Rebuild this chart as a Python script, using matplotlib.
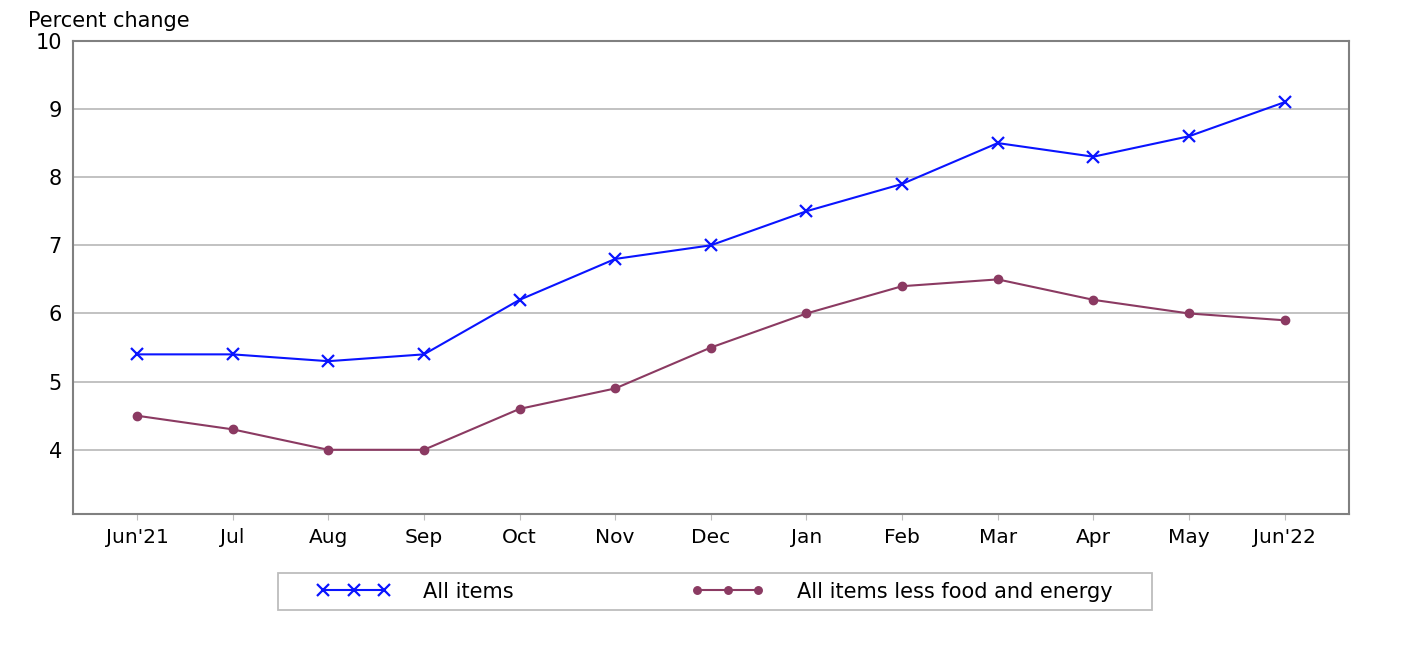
import matplotlib
matplotlib.use('Agg')
import matplotlib.pyplot as plt
from matplotlib.patches import Rectangle

plt.rcParams['font.family'] = ['DejaVu Sans']

meses = ["Jun'21", 'Jul', 'Aug', 'Sep', 'Oct', 'Nov', 'Dec',
         'Jan', 'Feb', 'Mar', 'Apr', 'May', "Jun'22"]
todos = [5.4, 5.4, 5.3, 5.4, 6.2, 6.8, 7.0, 7.5, 7.9, 8.5, 8.3, 8.6, 9.1]
nucleo = [4.5, 4.3, 4.0, 4.0, 4.6, 4.9, 5.5, 6.0, 6.4, 6.5, 6.2, 6.0, 5.9]
yticks = [4, 5, 6, 7, 8, 9, 10]

azul = '#0a14ff'
bordo = '#8b3a62'

fig = plt.figure(figsize=(14.02, 6.48), dpi=100)
ax = fig.add_axes([0.052, 0.207, 0.91, 0.73])

x = range(len(meses))
l1, = ax.plot(x, todos, color=azul, lw=1.5, marker='x', ms=9, mew=1.6,
              label='All items')
l2, = ax.plot(x, nucleo, color=bordo, lw=1.5, marker='o', ms=6,
              label='All items less food and energy')

ax.set_xlim(-0.67, 12.67)
ax.set_ylim(3.06, 10)
ax.set_xticks(list(x))
ax.set_xticklabels(meses, fontsize=14.5)
ax.set_yticks(yticks)
ax.set_yticklabels([str(v) for v in yticks], fontsize=15)

ax.yaxis.grid(True, color='#bdbdbd', lw=1.3)
ax.set_axisbelow(True)
for s in ax.spines.values():
    s.set_color('#808080')
    s.set_linewidth(1.5)
ax.tick_params(axis='y', length=0, pad=8)
ax.tick_params(axis='x', length=4, color='#bdbdbd', pad=6)

fig.text(0.02, 0.958, 'Percent change', fontsize=15)

# caja de la leyenda dibujada a mano
fig.patches.append(Rectangle((0.198, 0.0586), 0.624, 0.057,
                             transform=fig.transFigure, fill=False,
                             edgecolor='#bdbdbd', lw=1.3))
leg = fig.legend(handles=[l1, l2], loc='center', bbox_to_anchor=(0.51, 0.087),
                 ncol=2, fontsize=15, frameon=False,
                 numpoints=3, handlelength=3.5, columnspacing=8.5,
                 handletextpad=1.6, markerscale=0.9)

fig.savefig('out.png', dpi=100)
